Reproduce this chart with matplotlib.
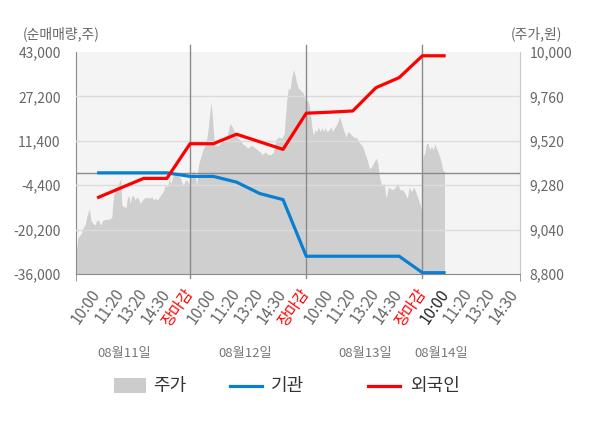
import matplotlib
matplotlib.use('Agg')
import matplotlib.pyplot as plt
from matplotlib.patches import Rectangle
from matplotlib.lines import Line2D

plt.rcParams['font.family'] = ['Noto Sans CJK KR', 'DejaVu Sans']

# slot positions: 1..5 = day 1 (10:00 .. 장마감), 6..10 day 2, 11..15 day 3, 16..19 day 4
tick_labels = ['10:00', '11:20', '13:20', '14:30', '장마감'] * 3 + ['10:00', '11:20', '13:20', '14:30']
date_labels = ['08월11일', '08월12일', '08월13일', '08월14일']

# net buying (주), one point per slot 1..16
flow_x = list(range(1, 17))
foreign = [-8920, -5430, -1980, -1980, 10360, 10360, 13740, 11040, 8350, 21220,
           21580, 22010, 30290, 33890, 41660, 41660]
institution = [0, 0, 0, 0, -1260, -1260, -3310, -7370, -9530, -29680,
               -29680, -29680, -29680, -29680, -35540, -35540]

# price (원)
price_x = [
    # day 1
    0.09, 0.13, 0.17, 0.26, 0.33, 0.39, 0.48, 0.55, 0.61, 0.67,
    0.73, 0.81, 0.91, 0.98, 1.05, 1.16, 1.24, 1.34, 1.48, 1.63,
    1.67, 1.74, 1.84, 1.96, 2.02, 2.06, 2.13, 2.24, 2.30, 2.37,
    2.42, 2.49, 2.56, 2.63, 2.71, 2.77, 2.85, 2.92, 3.02, 3.14,
    3.28, 3.35, 3.42, 3.49, 3.59, 3.68, 3.78, 3.85, 3.92, 4.02,
    4.10, 4.17, 4.28, 4.40, 4.50, 4.57, 4.69, 4.78, 4.86, 4.96,
    # day 2
    5.04, 5.14, 5.22, 5.29, 5.33, 5.39, 5.47, 5.57, 5.65, 5.72,
    5.79, 5.86, 5.90, 5.96, 6.03, 6.11, 6.22, 6.36, 6.51, 6.62,
    6.72, 6.82, 6.94, 7.05, 7.15, 7.25, 7.37, 7.48, 7.58, 7.66,
    7.80, 7.92, 8.01, 8.11, 8.23, 8.35, 8.49, 8.59, 8.69, 8.80,
    8.95, 9.06, 9.09, 9.16, 9.23, 9.30, 9.38, 9.45, 9.52, 9.59,
    9.66, 9.74, 9.81, 9.88, 9.95,
    # day 3
    10.02, 10.09, 10.17, 10.24, 10.31, 10.38, 10.45, 10.52, 10.60, 10.67,
    10.74, 10.81, 10.88, 11.00, 11.06, 11.14, 11.24, 11.34, 11.43, 11.50,
    11.60, 11.72, 11.79, 11.89, 12.03, 12.18, 12.32, 12.43, 12.53, 12.63,
    12.72, 12.82, 12.92, 13.01, 13.08, 13.15, 13.25, 13.35, 13.44, 13.54,
    13.68, 13.82, 13.92, 14.04, 14.15, 14.25, 14.35, 14.43, 14.53, 14.63,
    14.71, 14.81, 14.89, 14.96,
    # day 4
    15.03, 15.10, 15.17, 15.24, 15.32, 15.39, 15.46, 15.53, 15.60, 15.67,
    15.74, 15.81, 15.88, 15.95,
]
price = [
    8900, 8950, 8995, 9010, 9020, 9050, 9065, 9110, 9135, 9150,
    9090, 9075, 9065, 9090, 9090, 9065, 9090, 9095, 9095, 9105,
    9180, 9245, 9265, 9300, 9315, 9175, 9165, 9160, 9210, 9225,
    9180, 9220, 9225, 9200, 9215, 9210, 9180, 9195, 9210, 9215,
    9210, 9220, 9200, 9210, 9200, 9215, 9235, 9245, 9280, 9270,
    9310, 9290, 9335, 9345, 9325, 9325, 9280, 9300, 9310, 9280,
    9330, 9360, 9335, 9270, 9360, 9405, 9435, 9480, 9495, 9535,
    9595, 9685, 9730, 9650, 9525, 9495, 9495, 9515, 9525, 9560,
    9615, 9595, 9560, 9535, 9525, 9505, 9495, 9480, 9490, 9495,
    9480, 9470, 9460, 9445, 9460, 9445, 9445, 9460, 9525, 9540,
    9535, 9560, 9630, 9740, 9805, 9795, 9865, 9905, 9875, 9830,
    9805, 9795, 9785, 9775, 9740,
    9740, 9730, 9685, 9595, 9550, 9580, 9570, 9595, 9570, 9590,
    9570, 9590, 9570, 9580, 9595, 9570, 9595, 9615, 9650, 9625,
    9580, 9540, 9570, 9560, 9540, 9535, 9505, 9490, 9450, 9415,
    9370, 9380, 9405, 9425, 9400, 9325, 9280, 9290, 9210, 9270,
    9255, 9265, 9290, 9255, 9255, 9235, 9210, 9270, 9245, 9270,
    9245, 9210, 9180, 9145,
    9440, 9450, 9505, 9505, 9470, 9490, 9470, 9505, 9480, 9460,
    9435, 9405, 9360, 9355,
]

left_ticks = [-36000, -20200, -4400, 11400, 27200, 43000]
right_ticks = [8800, 9040, 9280, 9520, 9760, 10000]

W, H = 600, 428


def fig_xy(x, y):
    return x / W, 1 - y / H


fig = plt.figure(figsize=(6, 4.28), dpi=100)
ax = fig.add_axes([76 / W, 1 - 274 / H, 444 / W, 222 / H])
axl = ax.twinx()

# price area on ax (right scale)
ax.set_facecolor('#f4f4f4')
ax.fill_between(price_x, price, 8800, color='#cfcfcf', lw=0, zorder=1)
ax.set_xlim(0.09, 19.2)
ax.set_ylim(8800, 10000)
ax.yaxis.tick_right()
ax.set_yticks(right_ticks)
ax.set_yticklabels([f'{v:,}' for v in right_ticks])
ax.tick_params(axis='y', length=0, pad=7, labelsize=10, labelcolor='#666')

# net buying on axl (left scale)
axl.yaxis.tick_left()
axl.set_ylim(-36000, 43000)
axl.set_yticks(left_ticks)
axl.set_yticklabels([f'{v:,}' for v in left_ticks])
axl.tick_params(axis='y', length=0, pad=11, labelsize=10, labelcolor='#666')
for v in left_ticks[1:-1]:
    axl.axhline(v, color='#dcdcdc', lw=1, zorder=1)
axl.axhline(0, color='#8a8a8a', lw=1, zorder=2)
for d in [5, 10, 15]:
    axl.axvline(d, ymin=-0.02, ymax=1.032, color='#8a8a8a', lw=1, clip_on=False, zorder=2)

axl.plot(flow_x, institution, color='#0a7fd1', lw=2.3, zorder=4, solid_capstyle='butt')
axl.plot(flow_x, foreign, color='#ff0000', lw=2.3, zorder=5, solid_capstyle='butt')

for s in axl.spines.values():
    s.set_visible(False)
ax.spines['top'].set_visible(False)
ax.spines['left'].set_color('#8a8a8a')
ax.spines['bottom'].set_color('#8a8a8a')
ax.spines['right'].set_color('#c8c8c8')

# x axis
ax.set_xticks(range(1, len(tick_labels) + 1))
ax.set_xticklabels(tick_labels)
ax.set_xticks([0.09, 5, 10, 15, 19.2], minor=True)
ax.tick_params(axis='x', which='major', length=0, pad=12, labelsize=11)
ax.tick_params(axis='x', which='minor', length=5, color='#8a8a8a')
for i, lab in enumerate(ax.get_xticklabels()):
    lab.set_rotation(55)
    lab.set_rotation_mode('anchor')
    lab.set_ha('right')
    lab.set_va('center')
    if tick_labels[i] == '장마감':
        lab.set_color('#ff0000')
    elif i == 15:
        lab.set_color('#222222')
    else:
        lab.set_color('#666666')

# axis titles
fig.text(*fig_xy(61, 34), '(순매매량,주)', ha='center', va='center', fontsize=10, color='#666')
fig.text(*fig_xy(536, 34), '(주가,원)', ha='center', va='center', fontsize=10, color='#666')

# dates
for xc, txt in zip([124.5, 244.7, 365, 441], date_labels):
    fig.text(*fig_xy(xc, 353), txt, ha='center', va='center', fontsize=9.5, color='#777')

# legend
x0, y0 = fig_xy(114.3, 393.3)
fig.patches.append(Rectangle((x0, y0), 31.7 / W, 15 / H, transform=fig.transFigure,
                             facecolor='#cccccc', edgecolor='none'))
for (xa, xb), col in [((230, 262), '#0a7fd1'), ((368, 400), '#ff0000')]:
    (fa, fy), (fb, _) = fig_xy(xa, 386), fig_xy(xb, 386)
    fig.lines.append(Line2D([fa, fb], [fy, fy], transform=fig.transFigure, color=col, lw=2.3))
for xt, txt in [(153, '주가'), (270.7, '기관'), (410, '외국인')]:
    fig.text(*fig_xy(xt, 386), txt, ha='left', va='center', fontsize=13, color='#333')

fig.savefig('out.png', dpi=100)
